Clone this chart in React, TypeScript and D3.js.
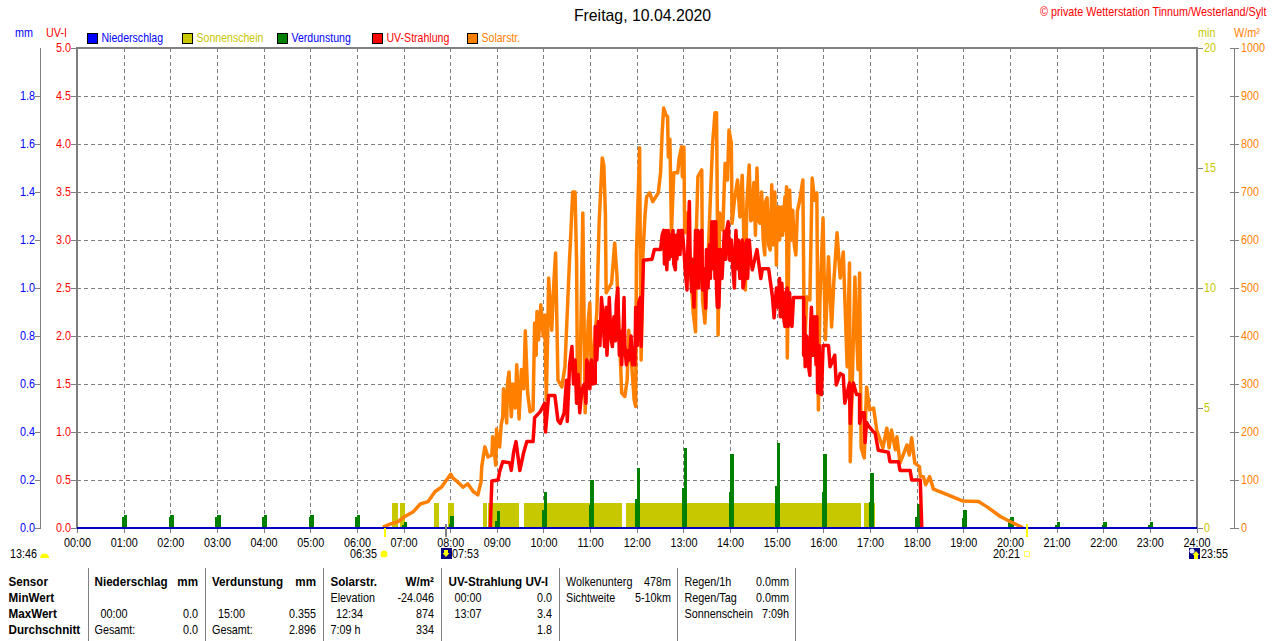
import React from 'react';
import * as d3 from 'd3';

// minute of day, W/m2
const solarStr: [number, number][] = [
  [393,2],[402,8],[412,13],[421,24],[432,34],[441,50],[451,55],[460,76],[468,85],[480,112],[483,104],[489,96],[496,85],[502,92],[509,76],[515,69],
  [519,96],[520,128],[524,169],[528,148],[533,152],[534,190],[538,131],[539,206],[541,170],[543,169],[545,215],[547,232],[548,290],[550,273],[552,219],[553,300],[555,325],[558,232],[560,300],[563,250],[565,340],[568,227],
  [571,330],[574,290],[576,411],[579,281],[582,242],[586,246],[588,427],[590,360],[591,451],[593,392],[596,465],[599,400],[601,444],[603,267],[605,420],[606,521],[610,412],[613,520],[615,573],[618,308],[623,294],[627,336],
  [633,563],[634,594],[637,700],[640,700],[642,552],[643,308],[646,281],[650,656],[653,240],[657,433],[659,469],[661,308],[668,448],[671,638],[675,771],[677,756],
  [679,656],[680,490],[687,510],[691,594],[694,523],[695,469],[698,365],[700,281],[704,274],[707,308],[709,412],[713,336],[716,267],[718,253],[719,573],[723,792],
  [725,350],[727,558],[730,652],[732,690],[736,698],[740,680],[747,698],[750,740],[752,823],[754,875],[757,860],[759,857],[760,773],[762,810],[764,615],[767,740],
  [772,740],[774,771],[777,794],[778,732],[780,794],[781,615],[784,656],[790,503],[792,448],[795,409],[796,615],[798,732],[803,746],[804,475],[807,427],[811,558],
  [815,725],[817,802],[820,865],[822,865],[823,667],[824,402],[826,656],[830,621],[833,760],[836,725],[838,829],[841,802],[842,635],[845,683],[849,725],[852,648],
  [855,735],[859,496],[861,677],[864,756],[866,640],[867,642],[870,720],[872,610],[874,750],[876,640],[878,635],[880,700],[882,600],[884,569],[885,680],[887,688],[889,590],[891,579],[893,715],[895,590],[897,700],[899,548],[900,660],[902,669],[903,600],[906,669],[907,610],[910,690],[911,620],
  [912,711],[913,354],[916,704],[918,600],[920,662],[922,590],[924,569],[926,660],[929,683],[933,725],[935,358],[938,482],[942,475],[945,729],[948,683],[951,698],[953,246],[955,475],[959,646],
  [962,392],[966,565],[970,419],[973,517],[977,615],[981,521],[985,575],[990,336],[993,552],[994,138],[1000,523],[1001,454],[1004,330],[1006,531],[1008,167],[1012,146],[1015,294],
  [1019,246],[1024,250],[1028,204],[1036,167],[1041,208],[1044,167],[1047,204],[1052,163],[1054,190],[1058,135],[1067,173],[1070,152],[1073,188],[1077,135],[1083,128],[1084,108],
  [1088,107],[1091,90],[1096,107],[1101,81],[1118,70],[1139,56],[1159,55],[1170,44],[1187,24],[1200,13],[1216,1],
];

// minute of day, UV index
const uvStrahlung: [number, number][] = [
  [531,0],[532,0.26],[533,0.49],[541,0.5],[543,0.59],[547,0.69],[556,0.68],[558,0.6],[561,0.79],[564,0.9],[566,0.78],[569,0.6],[574,0.79],[578,0.9],[586,0.9],[588,1.15],
  [595,1.21],[601,1.3],[602,1.0],[606,1.38],[614,1.38],[618,1.12],[621,1.09],[626,1.2],[629,1.54],[630,1.11],[633,1.7],[636,1.89],
  [638,1.5],[640,1.75],[642,1.3],[644,1.6],[646,1.2],[649,1.45],[652,1.5],[654,1.3],[655,1.75],[657,1.7],[659,1.45],[661,1.75],[663,1.5],[666,1.51],[666,2.1],[668,1.75],[670,2.15],[672,1.9],[674,2.4],[676,2.2],[678,1.89],[680,2.3],[681,1.8],[683,2.1],[684,2.4],[686,2.0],[688,1.89],[690,2.2],[692,1.95],[693,2.35],[695,2.5],[697,1.8],[699,2.05],[700,1.7],[702,2.1],[703,2.4],[704,1.9],[706,1.7],[708,1.85],[710,1.75],[712,2.0],[714,1.7],[717,1.7],[718,2.3],[720,1.9],[722,2.35],[724,2.4],[725,1.89],[728,2.79],
  [739,2.8],[742,2.9],[750,2.9],[752,3.05],[754,3.1],[755,2.75],[757,3.1],[758,2.69],[760,3.1],[761,2.8],[763,3.05],[764,2.83],[766,3.1],[767,2.75],[769,2.69],[770,3.05],[771,2.8],[773,3.1],[775,2.85],[776,3.1],[778,3.1],[780,2.9],[782,2.65],[784,2.48],[785,2.9],[787,3.4],[788,2.8],[790,2.46],[791,2.8],[793,2.3],[795,3.1],[796,2.5],[798,3.1],[799,2.5],[801,3.05],[803,3.1],[804,2.48],[806,2.7],[808,2.29],[809,2.9],[811,2.5],[813,2.95],[814,2.6],[816,3.19],[817,2.7],[819,3.19],[820,2.6],[821,3.19],[822,2.5],[823,2.3],[824,2.9],[825,2.3],[827,2.9],[829,2.6],[832,3.09],[834,2.8],[835,3.1],[837,3.19],[839,2.79],[841,3.0],[843,2.7],[845,2.5],[846,2.9],[847,3.1],[849,2.7],[850,3.0],[852,2.6],[853,2.9],[855,3.0],[856,2.5],[858,2.6],[859,2.95],[861,3.0],[862,2.6],[864,3.0],[866,2.8],[868,2.69],
  [874,2.9],[879,2.6],[881,2.7],[889,2.7],[894,2.4],[896,2.19],[899,2.5],[901,2.3],[903,2.6],[904,2.2],[906,2.55],[908,2.2],[910,2.1],[911,2.45],[913,2.5],[914,2.1],[916,2.45],[917,2.15],[919,2.1],[921,2.4],[923,2.4],
  [934,2.4],[934,1.8],[935,2.2],[936,1.68],[938,2.0],[940,1.7],[942,1.59],[943,2.1],[944,2.3],[946,1.8],[948,2.2],[950,1.7],[951,2.2],[952,1.41],[954,1.9],[955,1.4],[957,1.39],[959,1.9],[966,1.9],[968,1.68],[974,1.8],[976,1.49],[981,1.61],[985,1.59],[987,1.3],
  [993,1.51],[994,1.09],[996,1.4],[998,1.51],[1002,1.39],[1006,1.39],[1006,1.09],[1009,1.2],[1012,1.2],[1013,0.89],[1015,1.1],[1017,1.07],[1024,1.0],[1026,0.99],[1030,0.81],[1043,0.79],[1045,0.69],[1056,0.69],[1058,0.6],
  [1071,0.6],[1073,0.5],[1084,0.5],[1086,0],
];

// sunshine periods, from / to minute
const sunFrom = [404, 415, 459, 477, 522, 528, 574, 706, 1012];
const sunTo = [412, 421, 465, 484, 527, 568, 701, 1008, 1026];
const sunMinutes = 1.03;

// evaporation on the hour, mm (index = hour), plus the smaller neighbouring reading
const evapHigh = [0,0.054,0.054,0.054,0.054,0.054,0.054,0.025,0.05,0.071,0.15,0.2,0.25,0.333,0.308,0.355,0.308,0.229,0.1,0.075,0.046,0.025,0.025,0.025];
const evapLow = [0,0.046,0.046,0.046,0.046,0.046,0.046,0.012,0.017,0.029,0.075,0.096,0.121,0.167,0.15,0.175,0.15,0.108,0.046,0.042,0.038,0.0125,0.0125,0.0125];

const hourTicks = d3.range(0, 25);
const uvTicks = d3.range(0, 5.5, 0.5);
const mmTicks = d3.range(0, 2, 0.2);
const minTicks = [0, 5, 10, 15, 20];
const wattTicks = d3.range(0, 1100, 100);

const legendNames = ['Niederschlag', 'Sonnenschein', 'Verdunstung', 'UV-Strahlung', 'Solarstr.'];
const legendFill = ['#0000ff', '#c8c800', '#008000', '#ff0000', '#ff8000'];
const legendText = ['#0000ff', '#c8c800', '#0000ff', '#ff0000', '#ff8000'];
const legendX = [87, 182, 277, 372, 467];

const GREY = '#808080';
const FONT = '"Liberation Sans", Arial, sans-serif';

const x = d3.scaleLinear().domain([0, 1440]).range([77.5, 1197]);
const yUv = d3.scaleLinear().domain([0, 5]).range([528, 48]);
const yMm = d3.scaleLinear().domain([0, 2]).range([528, 48]);
const yMin = d3.scaleLinear().domain([0, 20]).range([528, 48]);
const yWatt = d3.scaleLinear().domain([0, 1000]).range([528, 48]);

const solarLine = d3.line<[number, number]>().x(d => x(d[0])).y(d => yWatt(d[1]));
const uvLine = d3.line<[number, number]>().x(d => x(d[0])).y(d => yUv(d[1]));

const hhmm = (h: number) => `${String(h).padStart(2, '0')}:00`;

// the original font is narrow, so squeeze the text horizontally
const Txt = ({ x: px, y, children, fill = '#000', size = 12, anchor = 'start', bold = false, sx = 0.9 }: any) => (
  <text
    transform={`translate(${px},${y}) scale(${sx},1)`}
    fill={fill}
    fontSize={size}
    fontFamily={FONT}
    fontWeight={bold ? 'bold' : 'normal'}
    textAnchor={anchor}
  >
    {children}
  </text>
);

const tableRows = [582, 598, 614, 630].map(v => v + 4);
const tableDividers = [88.5, 205.5, 323, 441.5, 559.5, 677.5, 795.5];

const App = () => (
  <svg width={1280} height={641} style={{ position: 'absolute', left: 0, top: 0, background: '#fff' }}>
    <Txt x={642.5} y={21} size={16} anchor="middle" sx={0.99}>Freitag, 10.04.2020</Txt>
    <Txt x={1040} y={16} fill="#ff0000" sx={0.9}>© private Wetterstation Tinnum/Westerland/Sylt</Txt>

    {/* legend */}
    <Txt x={15} y={37} fill="#0000ff">mm</Txt>
    <Txt x={46} y={37} fill="#ff0000">UV-I</Txt>
    <Txt x={1198} y={37} fill="#c8c800">min</Txt>
    <Txt x={1234} y={37} fill="#ff8000">W/m²</Txt>
    {legendNames.map((name, i) => (
      <g key={name}>
        <rect x={legendX[i] + 0.5} y={33.5} width={10} height={10} fill={legendFill[i]} stroke="#000" />
        <Txt x={legendX[i] + 14.5} y={42} fill={legendText[i]} sx={0.88}>{name}</Txt>
      </g>
    ))}

    {/* grid */}
    <g stroke={GREY} strokeDasharray="4 3" shapeRendering="crispEdges">
      {uvTicks.slice(1, -1).map(t => <line key={t} x1={77} x2={1197} y1={yUv(t)} y2={yUv(t)} />)}
      {hourTicks.slice(1, -1).map(h => <line key={h} x1={x(h * 60)} x2={x(h * 60)} y1={48} y2={528} />)}
    </g>

    {/* axes */}
    <g shapeRendering="crispEdges" stroke={GREY}>
      <line x1={40.5} x2={40.5} y1={48} y2={528} />
      {mmTicks.map(t => <line key={t} x1={35} x2={41} y1={yMm(t)} y2={yMm(t)} />)}
      {uvTicks.map(t => <line key={t} x1={71} x2={77} y1={yUv(t)} y2={yUv(t)} />)}
      {minTicks.map(t => <line key={t} x1={1197} x2={1203} y1={yMin(t)} y2={yMin(t)} />)}
      <line x1={1234.5} x2={1234.5} y1={48} y2={528} />
      {wattTicks.map(t => <line key={t} x1={1230} x2={1239} y1={yWatt(t)} y2={yWatt(t)} />)}
      {hourTicks.map(h => <line key={h} x1={x(h * 60)} x2={x(h * 60)} y1={528} y2={533} />)}
    </g>
    {mmTicks.map(t => <Txt key={t} x={35} y={yMm(t) + 4} fill="#0000ff" anchor="end">{t.toFixed(1)}</Txt>)}
    {uvTicks.map(t => <Txt key={t} x={71} y={yUv(t) + 4} fill="#ff0000" anchor="end">{t.toFixed(1)}</Txt>)}
    {minTicks.map(t => <Txt key={t} x={1204} y={yMin(t) + 4} fill="#c8c800">{t}</Txt>)}
    {wattTicks.map(t => <Txt key={t} x={1241} y={yWatt(t) + 4} fill="#ff8000">{t}</Txt>)}
    {hourTicks.map(h => <Txt key={h} x={x(h * 60)} y={547} anchor="middle">{hhmm(h)}</Txt>)}

    {/* sunshine */}
    <g fill="#c8c800" shapeRendering="crispEdges">
      {sunFrom.map((s, i) => (
        <rect key={s} x={x(s)} y={yMin(sunMinutes)} width={x(sunTo[i]) - x(s)} height={yMin(0) - yMin(sunMinutes)} />
      ))}
    </g>

    {/* evaporation */}
    <g fill="#008000" shapeRendering="crispEdges">
      {evapHigh.map((v, h) => v > 0 && (
        <g key={h}>
          <rect x={x(h * 60 - 2.5)} y={yMm(evapLow[h])} width={x(h * 60 + 4) - x(h * 60 - 2.5)} height={yMm(0) - yMm(evapLow[h])} />
          <rect x={x(h * 60 - 0.5)} y={yMm(v)} width={x(h * 60 + 4) - x(h * 60 - 0.5)} height={yMm(0) - yMm(v)} />
        </g>
      ))}
    </g>

    <path d={solarLine(solarStr) || ''} fill="none" stroke="#ff8000" strokeWidth={3.5} strokeLinejoin="round" />
    <path d={uvLine(uvStrahlung) || ''} fill="none" stroke="#ff0000" strokeWidth={3.5} strokeLinejoin="round" />

    {/* frame */}
    <g stroke={GREY} shapeRendering="crispEdges" fill="none">
      <line x1={76} x2={1198} y1={48} y2={48} strokeWidth={2} />
      <line x1={77} x2={77} y1={48} y2={529} strokeWidth={2} />
      <line x1={1197} x2={1197} y1={48} y2={529} strokeWidth={2} />
    </g>
    <line x1={77} x2={1197} y1={528} y2={528} stroke="#0000c0" strokeWidth={1.5} shapeRendering="crispEdges" />

    {/* sun and moon times */}
    <Txt x={10} y={558}>13:46</Txt>
    <path d="M40 558 a4.5 4.5 0 0 1 9 0 z" fill="#ffff00" />
    <Txt x={350} y={558}>06:35</Txt>
    <circle cx={384} cy={554} r={3.5} fill="#ffff00" />
    <line x1={384.5} x2={384.5} y1={528} y2={537} stroke="#ffff00" strokeWidth={2} shapeRendering="crispEdges" />
    <line x1={445.5} x2={445.5} y1={524} y2={537} stroke={GREY} strokeWidth={2} shapeRendering="crispEdges" />
    <rect x={441} y={548} width={11} height={11} fill="#000080" />
    <path d="M444 550 h4 v3 h1.5 l-3.5 4 l-3.5 -4 h1.5 z" fill="#ffff00" />
    <Txt x={452} y={558}>07:53</Txt>
    <Txt x={993} y={558}>20:21</Txt>
    <rect x={1024.5} y={551.5} width={5} height={5} fill="none" stroke="#ffff60" />
    <line x1={1027} x2={1027} y1={524} y2={537} stroke="#ffff00" strokeWidth={2} shapeRendering="crispEdges" />
    <rect x={1189} y={548} width={11} height={11} fill="#000080" />
    <circle cx={1192} cy={551} r={2.5} fill="#e8e8ff" />
    <path d="M1196 551 l3.5 4 h-1.5 v4 h-4 v-4 h-1.5 z" fill="#ffff00" />
    <Txt x={1201} y={558}>23:55</Txt>

    {/* table */}
    <g stroke={GREY} shapeRendering="crispEdges">
      {tableDividers.map(d => <line key={d} x1={d} x2={d} y1={568} y2={641} />)}
    </g>
    {['Sensor', 'MinWert', 'MaxWert', 'Durchschnitt'].map((s, i) => (
      <Txt key={s} x={8.5} y={tableRows[i]} bold sx={0.97}>{s}</Txt>
    ))}
    <Txt x={94.5} y={tableRows[0]} bold sx={0.97}>Niederschlag</Txt>
    <Txt x={198} y={tableRows[0]} bold sx={0.97} anchor="end">mm</Txt>
    <Txt x={100.5} y={tableRows[2]}>00:00</Txt>
    <Txt x={198} y={tableRows[2]} anchor="end">0.0</Txt>
    <Txt x={94.5} y={tableRows[3]}>Gesamt:</Txt>
    <Txt x={198} y={tableRows[3]} anchor="end">0.0</Txt>

    <Txt x={212} y={tableRows[0]} bold sx={0.97}>Verdunstung</Txt>
    <Txt x={316} y={tableRows[0]} bold sx={0.97} anchor="end">mm</Txt>
    <Txt x={218} y={tableRows[2]}>15:00</Txt>
    <Txt x={316} y={tableRows[2]} anchor="end">0.355</Txt>
    <Txt x={212} y={tableRows[3]}>Gesamt:</Txt>
    <Txt x={316} y={tableRows[3]} anchor="end">2.896</Txt>

    <Txt x={330.5} y={tableRows[0]} bold sx={0.97}>Solarstr.</Txt>
    <Txt x={434} y={tableRows[0]} bold sx={0.97} anchor="end">W/m²</Txt>
    <Txt x={330.5} y={tableRows[1]}>Elevation</Txt>
    <Txt x={434} y={tableRows[1]} anchor="end">-24.046</Txt>
    <Txt x={336} y={tableRows[2]}>12:34</Txt>
    <Txt x={434} y={tableRows[2]} anchor="end">874</Txt>
    <Txt x={330.5} y={tableRows[3]}>7:09 h</Txt>
    <Txt x={434} y={tableRows[3]} anchor="end">334</Txt>

    <Txt x={448.5} y={tableRows[0]} bold sx={0.97}>UV-Strahlung UV-I</Txt>
    <Txt x={454.5} y={tableRows[1]}>00:00</Txt>
    <Txt x={552} y={tableRows[1]} anchor="end">0.0</Txt>
    <Txt x={454.5} y={tableRows[2]}>13:07</Txt>
    <Txt x={552} y={tableRows[2]} anchor="end">3.4</Txt>
    <Txt x={552} y={tableRows[3]} anchor="end">1.8</Txt>

    <Txt x={566} y={tableRows[0]}>Wolkenunterg</Txt>
    <Txt x={671} y={tableRows[0]} anchor="end">478m</Txt>
    <Txt x={566} y={tableRows[1]}>Sichtweite</Txt>
    <Txt x={671} y={tableRows[1]} anchor="end">5-10km</Txt>

    <Txt x={684.5} y={tableRows[0]}>Regen/1h</Txt>
    <Txt x={789} y={tableRows[0]} anchor="end">0.0mm</Txt>
    <Txt x={684.5} y={tableRows[1]}>Regen/Tag</Txt>
    <Txt x={789} y={tableRows[1]} anchor="end">0.0mm</Txt>
    <Txt x={684.5} y={tableRows[2]}>Sonnenschein</Txt>
    <Txt x={789} y={tableRows[2]} anchor="end">7:09h</Txt>
  </svg>
);

export default App;
